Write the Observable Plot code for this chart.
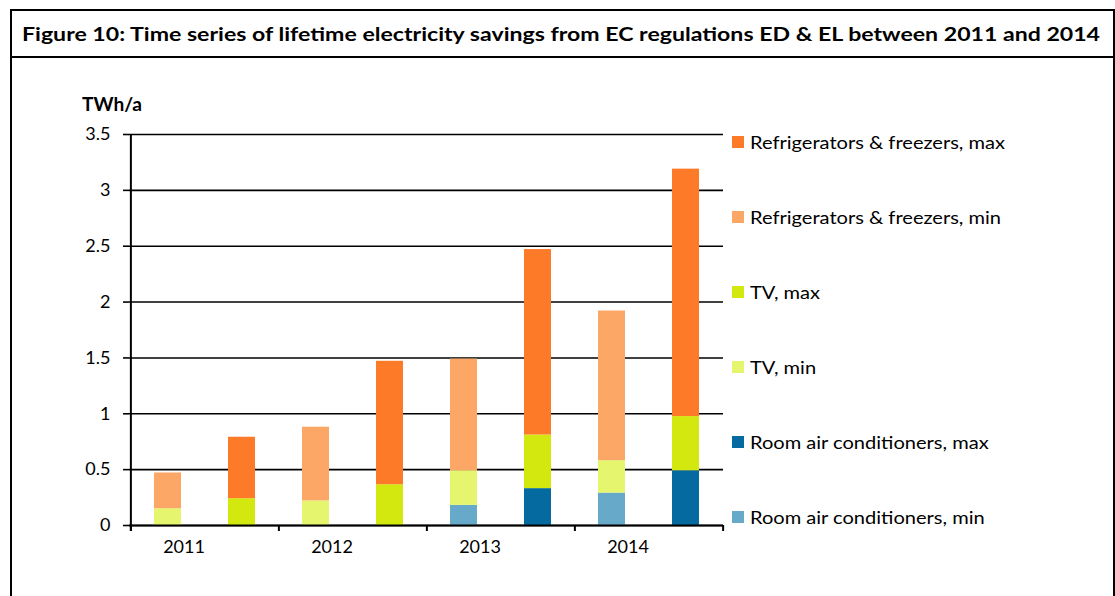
<!DOCTYPE html>
<html><head><meta charset="utf-8">
<script src="https://cdn.jsdelivr.net/npm/d3@7"></script>
<script src="https://cdn.jsdelivr.net/npm/@observablehq/plot@0.6"></script>
<style>
body{margin:0;background:#fff;font-family:Lato,"Open Sans",sans-serif;color:#000;}
#wrap{position:relative;width:1115px;height:596px;overflow:hidden;background:#fff;}
#frame{position:absolute;left:10px;top:9px;width:1105px;height:640px;border:2px solid #000;box-sizing:border-box;}
#sep{position:absolute;left:10px;top:56px;width:1105px;height:2px;background:#000;}
#title{position:absolute;left:22px;top:23px;font-weight:700;font-size:18px;white-space:nowrap;line-height:22px;display:inline-block;transform-origin:left center;}
#unit{position:absolute;left:82px;top:93px;font-weight:700;font-size:18.5px;white-space:nowrap;display:inline-block;transform-origin:left center;}
#chart{position:absolute;left:0;top:0;}
.leg{position:absolute;left:732px;display:flex;align-items:center;font-size:18px;white-space:nowrap;height:20px;}
.leg span.sw{display:inline-block;width:12px;height:12px;margin-right:6px;flex:none;}
.leg span.tx{display:inline-block;transform-origin:left center;}
</style>
</head><body>
<div id="wrap">
  <div id="frame"></div>
  <div id="sep"></div>
  <div id="title">Figure 10: Time series of lifetime electricity savings from EC regulations ED &amp; EL between 2011 and 2014</div>
  <div id="unit">TWh/a</div>
  <div id="chart"></div>
  <div id="legend"></div>
</div>
<script>
// ---- data ----
const years = ["2011", "2012", "2013", "2014"];
const bars = ["2011 min", "2011 max", "2012 min", "2012 max", "2013 min", "2013 max", "2014 min", "2014 max"];
const products = ["Room air conditioners", "TV", "Refrigerators & freezers"];
const acValues     = [0,    0,    0,    0,     0.18, 0.33, 0.29, 0.49];
const tvValues     = [0.15, 0.24, 0.22, 0.365, 0.31, 0.48, 0.29, 0.485];
const fridgeValues = [0.32, 0.55, 0.66, 1.105, 1.00, 1.66, 1.34, 2.215];
const yTicks = [0, 0.5, 1, 1.5, 2, 2.5, 3, 3.5];
const legendOrder = [
  "Refrigerators & freezers, max", "Refrigerators & freezers, min",
  "TV, max", "TV, min",
  "Room air conditioners, max", "Room air conditioners, min"
];
const legendColors = ["#fd7a29", "#fda766", "#d2e80f", "#e5f56e", "#046a9f", "#67a9c8"];

// ---- build table ----
const valueSets = [acValues, tvValues, fridgeValues];
const rows = [];
products.forEach((p, pi) => {
  bars.forEach((b, bi) => {
    const variant = b.split(" ")[1];
    rows.push({bar: b, product: p, series: `${p}, ${variant}`, value: valueSets[pi][bi]});
  });
});

const W = 1115, H = 596;
const step = 594 / bars.length;

const chart = Plot.plot({
  width: W, height: H,
  marginLeft: 129, marginRight: 392, marginTop: 134, marginBottom: 71,
  style: {fontFamily: "Lato, 'Open Sans', sans-serif", fontSize: "18px", color: "#000", background: "transparent"},
  x: {domain: bars, paddingInner: 0.64, paddingOuter: 0.32, axis: null},
  y: {domain: [0, 3.5], axis: null},
  color: {domain: legendOrder, range: legendColors},
  marks: [
    Plot.gridY(yTicks, {stroke: "#000", strokeOpacity: 1, strokeWidth: 1.6}),
    Plot.barY(rows, {x: "bar", y: "value", fill: "series"}),
    Plot.ruleY(yTicks, {y: d => d, stroke: "#000", strokeWidth: 1.6, insetLeft: -6, insetRight: 594}),
    Plot.ruleY([0], {stroke: "#000", strokeWidth: 2}),
    Plot.ruleX([bars[0]], {y1: 3.5, y2: 0, dx: -step / 2, stroke: "#000", strokeWidth: 2, insetBottom: -6}),
    Plot.ruleX(years.map(y => y + " min"), {y1: 0, y2: 0, dx: -step / 2, stroke: "#000", strokeWidth: 2, insetBottom: -6}),
    Plot.ruleX([bars[bars.length - 1]], {y1: 0, y2: 0, dx: step / 2, stroke: "#000", strokeWidth: 2, insetBottom: -6}),
    Plot.text(yTicks, {y: d => d, frameAnchor: "left", dx: -19, textAnchor: "end", text: d => String(d), fontSize: 18}),
    Plot.text(years, {x: d => d + " min", frameAnchor: "bottom", dy: 27, dx: 16, text: d => d, fontSize: 18})
  ]
});
document.getElementById("chart").appendChild(chart);

// legend
const legendY = [141.7, 216.7, 291.7, 366.7, 441.7, 516.7];
const leg = document.getElementById("legend");
const txs = [];
legendOrder.forEach((s, i) => {
  const d = document.createElement("div");
  d.className = "leg";
  d.style.top = (legendY[i] - 10) + "px";
  const sw = document.createElement("span");
  sw.className = "sw";
  sw.style.background = chart.scale("color").apply(s);
  const tx = document.createElement("span");
  tx.className = "tx";
  tx.textContent = s;
  d.appendChild(sw);
  d.appendChild(tx);
  leg.appendChild(d);
  txs.push(tx);
});

// horizontal stretch to match the reference's wide lettering
function fit(el, target) {
  const w = el.getBoundingClientRect().width;
  const k = target / w;
  el.style.transform = `scaleX(${k})`;
  return k;
}
fit(document.getElementById("title"), 1078);
fit(document.getElementById("unit"), 60);
const k = 255 / txs[0].getBoundingClientRect().width;
txs.forEach(t => t.style.transform = `scaleX(${k})`);
</script>
</body></html>
